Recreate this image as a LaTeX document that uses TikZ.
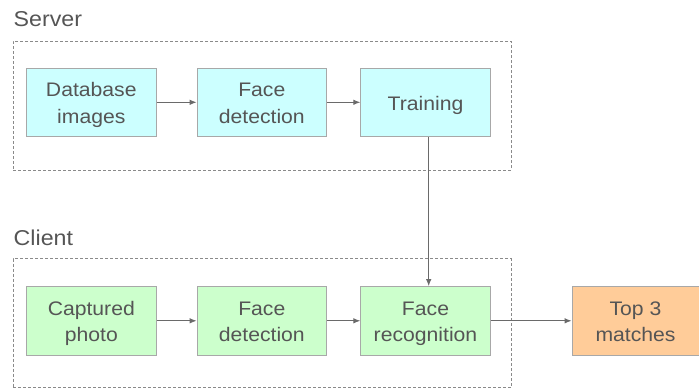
\documentclass[tikz,border=0pt]{standalone}
\usepackage{fontspec}
\setmainfont{Liberation Sans}[FakeStretch=1.08]
\usetikzlibrary{arrows.meta}
\definecolor{txt}{HTML}{555555}
\definecolor{boxline}{HTML}{A8A8A8}
\definecolor{dashline}{HTML}{8A8A8A}
\definecolor{arrline}{HTML}{6A6A6A}
\definecolor{cyanfill}{HTML}{CCFFFF}
\definecolor{greenfill}{HTML}{CCFFCC}
\definecolor{orangefill}{HTML}{FFCC99}
\begin{document}
\begin{tikzpicture}[x=1pt,y=-1pt,
  box/.style={draw=boxline, line width=0.9pt, minimum width=129.5pt, minimum height=68.5pt,
    inner sep=0pt, align=center, font=\fontsize{19.6}{26.6}\selectfont, text=txt,
    text height=46pt, text depth=4pt},
  oneline/.style={text height=20pt, text depth=4pt},
  container/.style={draw=dashline, line width=0.8pt, dash pattern=on 3pt off 2pt,
    minimum width=498pt, minimum height=129pt, inner sep=0pt},
  grouplabel/.style={anchor=base west, inner sep=0pt, font=\fontsize{21.5}{24}\selectfont, text=txt},
  arr/.style={draw=arrline, line width=0.9pt, -{Latex[length=7pt,width=5.5pt]}}]
\useasboundingbox (0,0) rectangle (699,389);

\node[container] (server) at (262,105.5) {};
\node[container] (client) at (262,323.2) {};
\node[grouplabel] (serverlbl) at (13.5,26.8) {Server};
\node[grouplabel] (clientlbl) at (13.5,245) {Client};

\node[box, fill=cyanfill] (db) at (91.3,102.3) {Database\\images};
\node[box, fill=cyanfill] (fd1) at (261.8,102.3) {Face\\detection};
\node[box, fill=cyanfill, oneline] (train) at (425.5,102.3) {Training};

\node[box, fill=greenfill] (cap) at (91.3,320.8) {Captured\\photo};
\node[box, fill=greenfill] (fd2) at (261.8,320.8) {Face\\detection};
\node[box, fill=greenfill] (rec) at (425.5,320.8) {Face\\recognition};
\node[box, fill=orangefill, minimum width=127pt] (top) at (635.5,320.8) {Top 3\\matches};

\draw[arr] (db) -- (fd1);
\draw[arr] (fd1) -- (train);
\draw[arr] (cap) -- (fd2);
\draw[arr] (fd2) -- (rec);
\draw[arr] (rec) -- (top);
\draw[arr] ([xshift=3.2pt]train.south) -- ([xshift=3.2pt]rec.north);
\end{tikzpicture}
\end{document}
